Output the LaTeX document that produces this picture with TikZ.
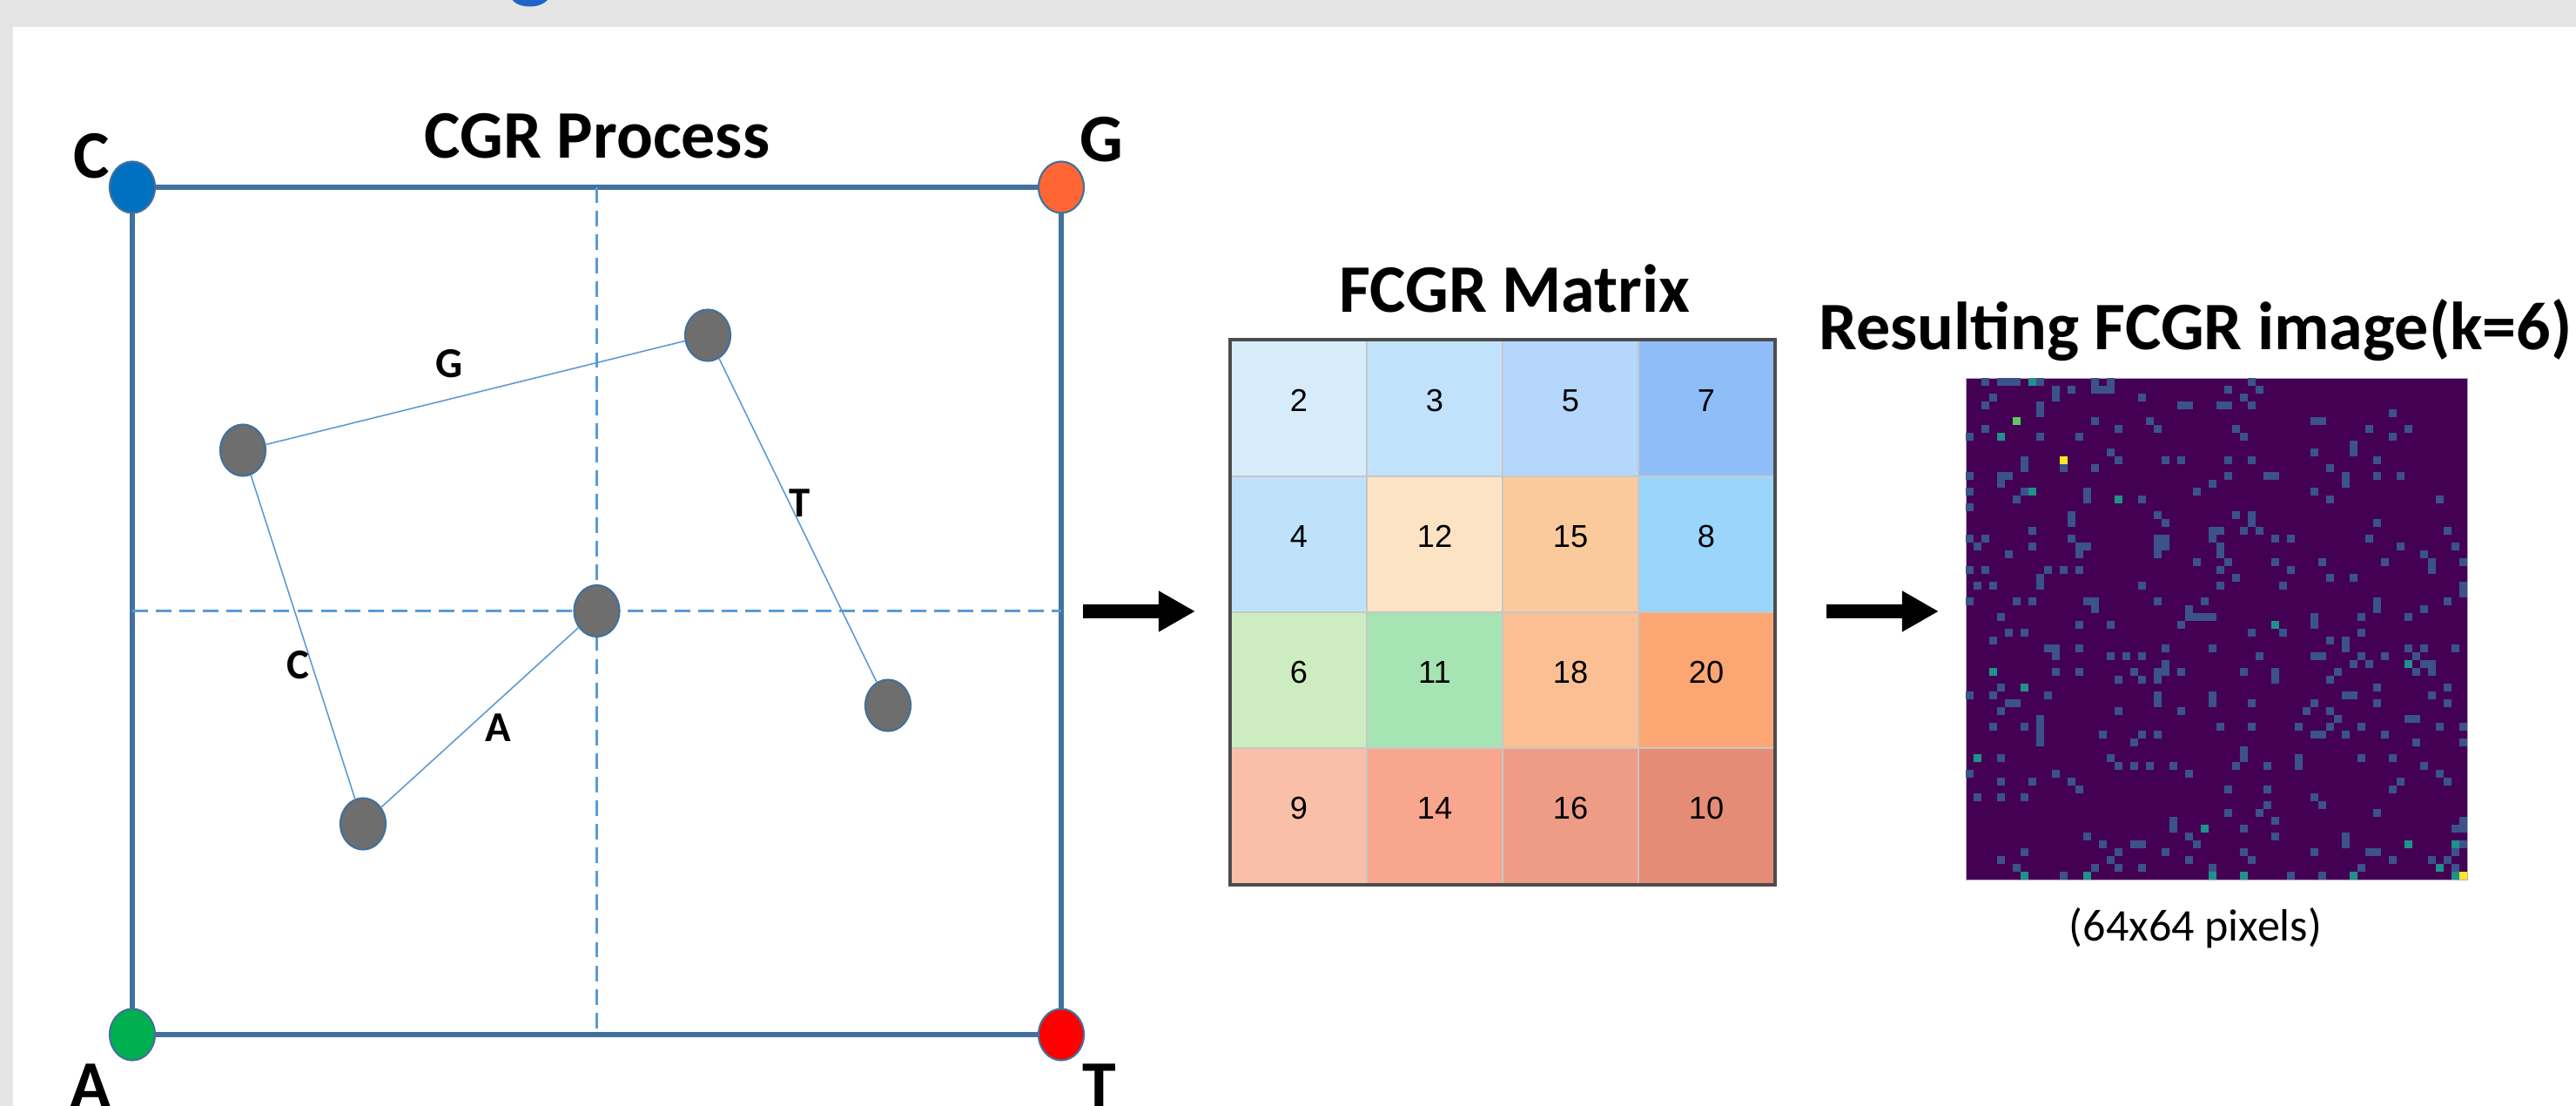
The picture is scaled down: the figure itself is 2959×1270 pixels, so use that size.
\documentclass[tikz,border=0pt]{standalone}
\usepackage{fontspec}
\setmainfont{Carlito}
\newfontfamily\arialf{Liberation Sans}
\usetikzlibrary{shapes.geometric,arrows.meta,calc}
\pgfdeclarelayer{bg}
\pgfdeclarelayer{lines}
\pgfsetlayers{bg,lines,main}
\definecolor{pagegray}{HTML}{E5E5E5}
\definecolor{frameblue}{HTML}{41719C}
\definecolor{guideblue}{HTML}{5B9BD5}
\definecolor{dotgray}{HTML}{6E6E6E}
\definecolor{cblue}{HTML}{0070C0}
\definecolor{gorange}{HTML}{FF6633}
\definecolor{agreen}{HTML}{00B050}
\definecolor{tred}{HTML}{FF0000}
\definecolor{titleblue}{HTML}{1F64C8}
\definecolor{imgbg}{HTML}{440154}
\definecolor{imgedge}{HTML}{B9A9C9}
\definecolor{imglit}{HTML}{3B528B}
\definecolor{imgteal}{HTML}{21918C}
\definecolor{imggreen}{HTML}{5DC863}
\definecolor{imgyellow}{HTML}{FDE725}
\definecolor{k11}{HTML}{D6ECFA}
\definecolor{k12}{HTML}{C0E2FB}
\definecolor{k13}{HTML}{B4D7FB}
\definecolor{k14}{HTML}{8FBDF8}
\definecolor{k21}{HTML}{BFE2FB}
\definecolor{k22}{HTML}{FCE3C3}
\definecolor{k23}{HTML}{FBCA9C}
\definecolor{k24}{HTML}{9AD6FB}
\definecolor{k31}{HTML}{CDEDC1}
\definecolor{k32}{HTML}{A7E4B3}
\definecolor{k33}{HTML}{FCBF94}
\definecolor{k34}{HTML}{FCA674}
\definecolor{k41}{HTML}{F9BFA8}
\definecolor{k42}{HTML}{F8A68D}
\definecolor{k43}{HTML}{EF9C86}
\definecolor{k44}{HTML}{E48C76}
\tikzset{
  frame/.style={draw=frameblue, line width=1.7pt},
  guide/.style={draw=guideblue, line width=0.75pt, dash pattern=on 5.1pt off 2.6pt},
  walk/.style={draw=guideblue, line width=0.45pt},
  corner/.style={ellipse, draw=frameblue, line width=0.6pt, minimum width=0.52cm, minimum height=0.59cm, inner sep=0pt},
  dot/.style={corner, fill=dotgray},
  biglabel/.style={font=\bfseries\fontsize{22.2pt}{26pt}\selectfont, inner sep=0pt},
  titletext/.style={font=\bfseries\fontsize{22.2pt}{26pt}\selectfont, inner sep=0pt},
  edgelabel/.style={font=\bfseries\fontsize{13.9pt}{16pt}\selectfont, inner sep=0pt},
  captiontext/.style={font=\fontsize{14.8pt}{17pt}\selectfont, inner sep=0pt},
  cell/.style={minimum size=1.56cm, inner sep=0pt, draw=black!22, line width=0.4pt, font=\arialf\fontsize{10.3pt}{12pt}\selectfont},
  bigarrow/.style={line width=4.3pt, -{Triangle[length=0.42cm,width=0.44cm]}},
  litpx/.style={fill=imglit},
}
\newcommand\cellnum[1]{\raisebox{5pt}{#1}}
\begin{document}
\begin{tikzpicture}[x=0.01cm,y=-0.01cm]
\useasboundingbox (0,0) rectangle (2959,1270);
\begin{pgfonlayer}{bg}
  \fill[pagegray] (0,0) rectangle (2959,1270);
  \fill[white] (15,31) rectangle (2959,1270);
\end{pgfonlayer}

% cut-off title fragment
\node[font=\bfseries\fontsize{31pt}{31pt}\selectfont, text=titleblue, anchor=base, inner sep=0pt] (gfrag) at (610,-10) {g};

% ---------- CGR panel ----------
\node[corner, fill=cblue]   (nC) at (152,215) {};
\node[corner, fill=gorange] (nG) at (1219,215) {};
\node[corner, fill=agreen]  (nA) at (152,1188) {};
\node[corner, fill=tred]    (nT) at (1219,1188) {};

\node[biglabel, anchor=base] (lC) at (105,205) {C};
\node[biglabel, anchor=base] (lG) at (1265,186) {G};
\node[biglabel, anchor=base] (lA) at (104,1272) {A};
\node[biglabel, anchor=base] (lT) at (1263,1272) {T};

\node[titletext, anchor=base] (tCGR) at (686,182) {CGR Process};

\begin{pgfonlayer}{lines}
  \draw[frame] (nC.center) -- (nG.center) -- (nT.center) -- (nA.center) -- cycle;
  \draw[guide] ($(nC)!0.5!(nG)$) -- ($(nA)!0.5!(nT)$);
  \draw[guide] ($(nC)!0.5!(nA)$) -- ($(nG)!0.5!(nT)$);
\end{pgfonlayer}

\node[dot] (p1) at (279,517) {};
\node[dot] (p2) at (813,385) {};
\node[dot] (p3) at (685.5,701.5) {};
\node[dot] (p4) at (1020,810) {};
\node[dot] (p5) at (417,946) {};

\draw[walk] (p1) -- (p2);
\draw[walk] (p2) -- (p4);
\draw[walk] (p1) -- (p5);
\draw[walk] (p5) -- (p3);

\node[edgelabel] (eG) at (516,418) {G};
\node[edgelabel] (eT) at (919,578) {T};
\node[edgelabel] (eC) at (342,764) {C};
\node[edgelabel] (eA) at (572,836) {A};

% ---------- arrows ----------
\coordinate (a1s) at (1244,702);
\coordinate (a1e) at (1373,702);
\coordinate (a2s) at (2098,702);
\coordinate (a2e) at (2227,702);
\draw[bigarrow] (a1s) -- (a1e);
\draw[bigarrow] (a2s) -- (a2e);

% ---------- FCGR matrix ----------
\node[titletext, anchor=base] (tFM) at (1740,359) {FCGR Matrix};
\node[cell, fill=k11] (m11) at (1492,469) {\cellnum{2}};
\node[cell, fill=k12] (m12) at (1648,469) {\cellnum{3}};
\node[cell, fill=k13] (m13) at (1804,469) {\cellnum{5}};
\node[cell, fill=k14] (m14) at (1960,469) {\cellnum{7}};
\node[cell, fill=k21] (m21) at (1492,625) {\cellnum{4}};
\node[cell, fill=k22] (m22) at (1648,625) {\cellnum{12}};
\node[cell, fill=k23] (m23) at (1804,625) {\cellnum{15}};
\node[cell, fill=k24] (m24) at (1960,625) {\cellnum{8}};
\node[cell, fill=k31] (m31) at (1492,781) {\cellnum{6}};
\node[cell, fill=k32] (m32) at (1648,781) {\cellnum{11}};
\node[cell, fill=k33] (m33) at (1804,781) {\cellnum{18}};
\node[cell, fill=k34] (m34) at (1960,781) {\cellnum{20}};
\node[cell, fill=k41] (m41) at (1492,937) {\cellnum{9}};
\node[cell, fill=k42] (m42) at (1648,937) {\cellnum{14}};
\node[cell, fill=k43] (m43) at (1804,937) {\cellnum{16}};
\node[cell, fill=k44] (m44) at (1960,937) {\cellnum{10}};
\draw[draw=black!70, line width=1.1pt] (m11.north west) rectangle (m44.south east);

% ---------- FCGR image ----------
\node[titletext, anchor=base] (tRes) at (2522,402) {Resulting FCGR image(k=6)};
\node[fill=imgbg, draw=imgedge, line width=0.3pt, minimum size=5.76cm, inner sep=0pt, anchor=north west] (img) at (2258,434) {};
\foreach \c/\r in {2/0,4/0,5/0,6/0,9/0,16/0,18/0,
11/1,13/1,16/1,17/1,18/1,
3/2,11/2,22/2,
2/3,9/3,27/3,28/3,
9/4,
16/5,23/5,
2/6,19/6,24/6,
0/7,9/7,14/7,
18/9,
7/10,19/10,25/10,27/10,
7/11,12/11,16/11,
0/12,4/12,5/12,
4/13,
0/14,7/14,15/14,29/14,
6/15,15/15,22/15,
0/16,
13/17,24/17,
13/18,25/18,
8/19,
0/20,2/20,13/20,24/20,25/20,
1/21,8/21,14/21,15/21,24/21,25/21,
5/22,14/22,24/22,
29/23,
0/24,2/24,10/24,12/24,14/24,
9/25,
1/26,3/26,9/26,22/26,
0/28,6/28,8/28,15/28,16/28,24/28,
16/29,28/29,
36/0,33/1,37/1,35/2,32/3,33/3,36/3,54/4,44/5,45/5,34/6,51/6,56/6,35/7,54/7,49/8,44/9,49/9,33/10,36/10,52/10,46/11,33/12,38/12,39/12,48/12,52/12,55/12,31/13,48/13,44/14,46/15,60/15,34/17,36/17,36/18,52/18,31/19,32/19,35/19,37/19,61/19,31/20,39/20,41/20,51/20,32/21,55/21,62/21,32/22,58/22,33/23,39/23,45/23,53/23,59/23,63/23,32/24,41/24,59/24,34/25,46/25,49/25,32/26,40/26,63/26,63/27,30/28,52/28,61/28,52/29,58/29,30/30,31/30,44/30,50/30,56/30,44/31,36/32,40/32,50/32,46/33,48/33}
  {\fill[litpx] (2258+9*\c,434+9*\r) rectangle ++(9,9);}
\pgfmathsetseed{11}
\foreach \r in {30,...,63}{
  \foreach \c in {0,...,63}{
    \pgfmathsetmacro\u{rnd}
    \pgfmathtruncatemacro\inreg{(\r>33)+(\c<30)}
    \ifnum\inreg>0
      \ifdim\u pt<0.085pt
        \fill[litpx] (2258+9*\c,434+9*\r) rectangle ++(9,9);
      \fi
    \fi
  }
}
\foreach \c/\r in {8/0,4/7,8/14,19/15,39/31,3/37,56/36,7/39,1/48,30/57,56/59,62/59,60/62,7/63,15/63,31/63,35/63,49/63,62/63}
  {\fill[imgteal] (2258+9*\c,434+9*\r) rectangle ++(9,9);}
\fill[imggreen] (2258+9*6,434+9*5) rectangle ++(9,9);
\foreach \c/\r in {12/10,63/63}
  {\fill[imgyellow] (2258+9*\c,434+9*\r) rectangle ++(9,9);}
\node[captiontext, anchor=base] (tPx) at (2522,1080) {(64x64 pixels)};
\end{tikzpicture}
\end{document}
